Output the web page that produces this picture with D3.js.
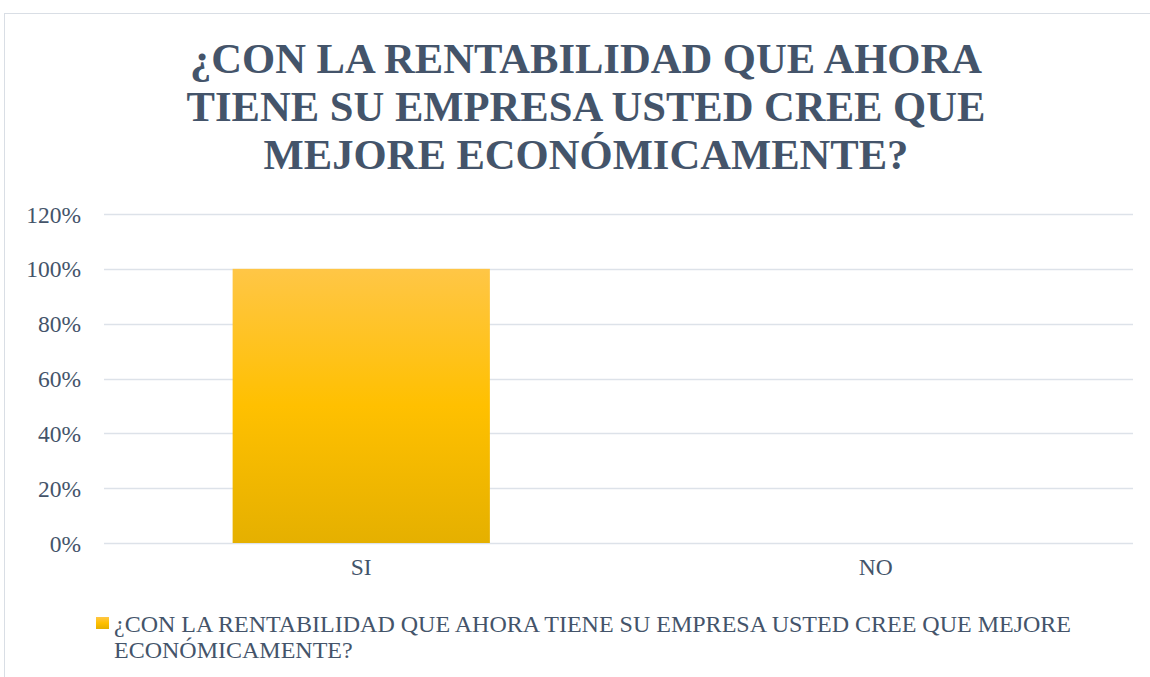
<!DOCTYPE html>
<html>
<head>
<meta charset="utf-8">
<script src="https://cdnjs.cloudflare.com/ajax/libs/d3/7.8.5/d3.min.js"></script>
<style>
  body { margin: 0; background: #fff; }
  svg { display: block; }
</style>
</head>
<body>
<div id="chart"></div>
<script>
const categories = ["SI", "NO"];
const values = [1.0, 0];
const yTicks = [0, 0.2, 0.4, 0.6, 0.8, 1.0, 1.2];
const titleLines = ["¿CON LA RENTABILIDAD QUE AHORA", "TIENE SU EMPRESA USTED CREE QUE", "MEJORE ECONÓMICAMENTE?"];
const legendLines = ["¿CON LA RENTABILIDAD QUE AHORA TIENE SU EMPRESA USTED CREE QUE MEJORE", "ECONÓMICAMENTE?"];

const W = 1150, H = 677;
const svg = d3.select("#chart").append("svg")
  .attr("width", W)
  .attr("height", H);

const textColor = "#44546A";
const serifFont = "Liberation Serif";

// gradient for the bar
const defs = svg.append("defs");
const grad = defs.append("linearGradient")
  .attr("id", "barGrad")
  .attr("x1", 0).attr("y1", 0).attr("x2", 0).attr("y2", 1);
grad.append("stop").attr("offset", "0%").attr("stop-color", "#FFC646");
grad.append("stop").attr("offset", "50%").attr("stop-color", "#FFC000");
grad.append("stop").attr("offset", "100%").attr("stop-color", "#E5B000");

// chart border
svg.append("rect")
  .attr("x", 4.5).attr("y", 13.5)
  .attr("width", W + 10).attr("height", H + 10)
  .attr("fill", "#fff")
  .attr("stroke", "#D9DEE5")
  .attr("stroke-width", 1);

// title
svg.append("text")
  .attr("text-anchor", "middle")
  .attr("font-family", serifFont)
  .attr("font-weight", "bold")
  .attr("font-size", 42.6)
  .attr("fill", textColor)
  .selectAll("tspan")
  .data(titleLines)
  .enter()
  .append("tspan")
  .attr("x", 586)
  .attr("y", (d, i) => 73 + i * 48)
  .text(d => d);

const margin = { top: 214, left: 104, right: 17 };
const plotW = W - margin.left - margin.right;
const plotH = 543 - margin.top;

const x = d3.scaleBand()
  .domain(categories)
  .range([0, plotW])
  .paddingInner(0.5)
  .paddingOuter(0.25);

const y = d3.scaleLinear()
  .domain([0, 1.2])
  .range([plotH, 0]);

const g = svg.append("g")
  .attr("transform", `translate(${margin.left},${margin.top})`);

// gridlines
g.append("g")
  .selectAll("line")
  .data(yTicks)
  .enter()
  .append("line")
  .attr("x1", 0).attr("x2", plotW)
  .attr("y1", d => Math.round(y(d)) + 0.5)
  .attr("y2", d => Math.round(y(d)) + 0.5)
  .attr("stroke", "#DDE2E9")
  .attr("stroke-width", 1.5);

// y axis labels
const yAxis = g.append("g")
  .attr("transform", "translate(-23,0)")
  .call(d3.axisLeft(y).tickValues(yTicks).tickFormat(d3.format(".0%")).tickSize(0).tickPadding(0));
yAxis.select(".domain").remove();
yAxis.attr("font-family", serifFont);
yAxis.selectAll("text")
  .attr("font-family", serifFont)
  .attr("font-size", 23.5)
  .attr("fill", textColor)
  .attr("dy", "0.34em");

// bars
g.selectAll("rect.bar")
  .data(values)
  .enter()
  .append("rect")
  .attr("class", "bar")
  .attr("x", (d, i) => x(categories[i]))
  .attr("width", x.bandwidth())
  .attr("y", d => y(d))
  .attr("height", d => plotH - y(d))
  .attr("fill", "url(#barGrad)");

// x axis labels
const xAxis = g.append("g")
  .attr("transform", `translate(0,${plotH})`)
  .call(d3.axisBottom(x).tickSize(0).tickPadding(0));
xAxis.select(".domain").remove();
xAxis.attr("font-family", serifFont);
xAxis.selectAll("text")
  .attr("font-family", serifFont)
  .attr("font-size", 23.5)
  .attr("fill", textColor)
  .attr("dy", null)
  .attr("y", 32);

// legend
const legend = svg.append("g");
legend.append("rect")
  .attr("x", 96).attr("y", 617)
  .attr("width", 13).attr("height", 12)
  .attr("fill", "url(#barGrad)");
legend.append("text")
  .attr("font-family", serifFont)
  .attr("font-size", 24)
  .attr("fill", textColor)
  .selectAll("tspan")
  .data(legendLines)
  .enter()
  .append("tspan")
  .attr("x", 114)
  .attr("y", (d, i) => 632 + i * 25.5)
  .text(d => d);
</script>
</body>
</html>
